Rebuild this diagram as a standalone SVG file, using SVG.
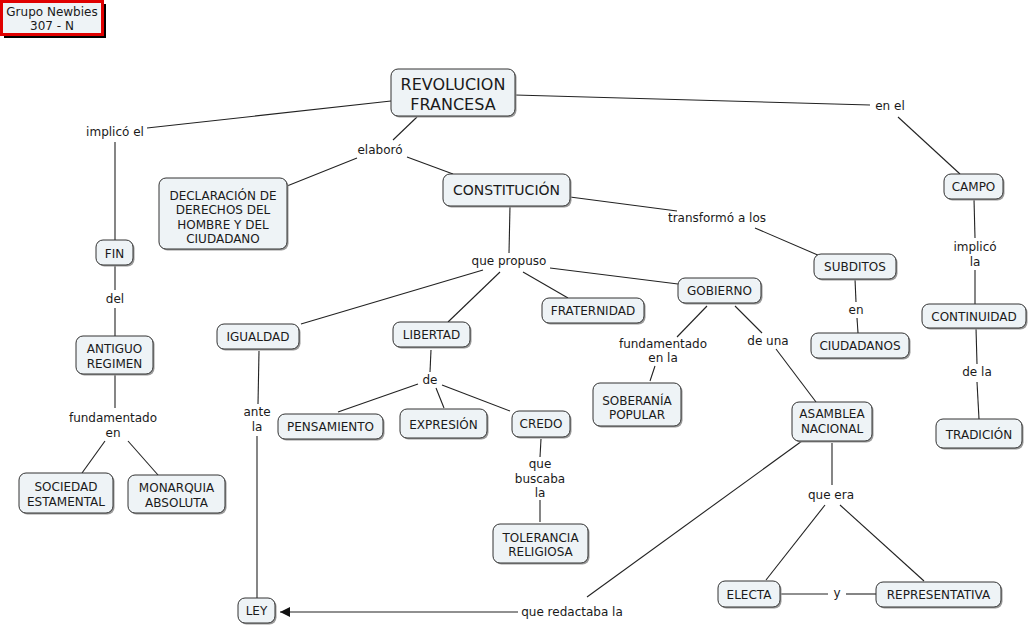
<svg xmlns="http://www.w3.org/2000/svg" width="1029" height="626" viewBox="0 0 1029 626">
<style>
.n rect.b{fill:#eef3f6;stroke:#333;stroke-width:1}
.n rect.s{fill:#9a9a9a}
text{font-family:"DejaVu Sans","Verdana",sans-serif;font-size:12px;fill:#1a1a1a;text-anchor:middle}
.big{font-size:16px}
.mid{font-size:14px}
#connectors line{stroke:#222;stroke-width:1.1}
</style>
<defs>
<marker id="arr" viewBox="0 0 10 10" refX="10" refY="5" markerWidth="10" markerHeight="10" markerUnits="userSpaceOnUse" orient="auto">
<path d="M0,0 L10,5 L0,10 z" fill="#111"/>
</marker>
</defs>
<rect width="1029" height="626" fill="#fff"/>

<g id="title">
<rect x="4" y="4" width="102" height="34" fill="#000"/>
<rect x="1.5" y="1.5" width="101" height="33" fill="#eef3f6" stroke="#e00000" stroke-width="3"/>
<text x="52" y="15.5">Grupo Newbies</text>
<text x="52" y="29.5">307 - N</text>
</g>

<g id="connectors">
<line x1="391" y1="101" x2="147" y2="128"/>
<line x1="115" y1="142" x2="115" y2="240"/>
<line x1="115" y1="265" x2="115" y2="290"/>
<line x1="115" y1="308" x2="115" y2="336"/>
<line x1="115" y1="374" x2="115" y2="408"/>
<line x1="105" y1="441" x2="82" y2="473"/>
<line x1="128" y1="441" x2="158" y2="475"/>
<line x1="417" y1="117" x2="393" y2="140"/>
<line x1="357" y1="158" x2="287" y2="186"/>
<line x1="407" y1="157" x2="453" y2="174"/>
<line x1="515" y1="95" x2="870" y2="105"/>
<line x1="898" y1="117" x2="960" y2="174"/>
<line x1="974" y1="199" x2="975" y2="238"/>
<line x1="975" y1="270" x2="975" y2="304"/>
<line x1="976" y1="328" x2="977" y2="364"/>
<line x1="977" y1="382" x2="979" y2="419"/>
<line x1="570" y1="197" x2="677" y2="211"/>
<line x1="755" y1="228" x2="820" y2="256"/>
<line x1="855" y1="279" x2="856" y2="302"/>
<line x1="857" y1="318" x2="858" y2="333"/>
<line x1="510" y1="206" x2="509" y2="253"/>
<line x1="483" y1="270" x2="301" y2="324"/>
<line x1="500" y1="272" x2="448" y2="322"/>
<line x1="523" y1="272" x2="568" y2="298"/>
<line x1="550" y1="268" x2="678" y2="284"/>
<line x1="431" y1="350" x2="430" y2="372"/>
<line x1="418" y1="384" x2="338" y2="412"/>
<line x1="436" y1="388" x2="444" y2="408"/>
<line x1="442" y1="385" x2="510" y2="411"/>
<line x1="541" y1="439" x2="540" y2="457"/>
<line x1="540" y1="500" x2="540" y2="522"/>
<line x1="707" y1="306" x2="677" y2="337"/>
<line x1="655" y1="366" x2="650" y2="381"/>
<line x1="735" y1="306" x2="762" y2="333"/>
<line x1="776" y1="349" x2="816" y2="402"/>
<line x1="832" y1="443" x2="832" y2="485"/>
<line x1="825" y1="505" x2="766" y2="580"/>
<line x1="840" y1="505" x2="924" y2="581"/>
<line x1="780" y1="594" x2="828" y2="594"/>
<line x1="846" y1="594" x2="876" y2="594"/>
<line x1="259" y1="351" x2="258" y2="404"/>
<line x1="257" y1="436" x2="257" y2="598"/>
<line x1="802" y1="441" x2="587" y2="597"/>
<line x1="518" y1="612" x2="280" y2="612" marker-end="url(#arr)"/>
</g>

<g id="labels">
<text x="115" y="136">implicó el</text>
<text x="380" y="154">elaboró</text>
<text x="890" y="110">en el</text>
<text x="717" y="222">transformó a los</text>
<text x="509" y="265">que propuso</text>
<text x="115" y="303">del</text>
<text x="113" y="422">fundamentado</text>
<text x="113" y="437">en</text>
<text x="430" y="384">de</text>
<text x="257" y="416">ante</text>
<text x="257" y="431">la</text>
<text x="663" y="348">fundamentado</text>
<text x="663" y="362">en la</text>
<text x="768" y="345">de una</text>
<text x="856" y="314">en</text>
<text x="975" y="251">implicó</text>
<text x="975" y="266">la</text>
<text x="977" y="376">de la</text>
<text x="540" y="468">que</text>
<text x="540" y="483">buscaba</text>
<text x="540" y="497">la</text>
<text x="831" y="499">que era</text>
<text x="837" y="597">y</text>
<text x="572" y="616">que redactaba la</text>
</g>

<g id="n-revolucion" class="n"><rect class="s" x="392.5" y="70.5" width="124" height="47" rx="7"/><rect class="b" x="391" y="69" width="124" height="47" rx="7"/><text class="big" x="453" y="90">REVOLUCION</text><text class="big" x="453" y="110">FRANCESA</text></g>
<g id="n-constitucion" class="n"><rect class="s" x="444.5" y="175.5" width="127" height="32" rx="7"/><rect class="b" x="443" y="174" width="127" height="32" rx="7"/><text class="mid" x="506.5" y="195">CONSTITUCIÓN</text></g>
<g id="n-declaracion" class="n"><rect class="s" x="160.5" y="179.5" width="128" height="71" rx="7"/><rect class="b" x="159" y="178" width="128" height="71" rx="7"/><text x="223" y="199.5">DECLARACIÓN DE</text><text x="223" y="214">DERECHOS DEL</text><text x="223" y="228.5">HOMBRE Y DEL</text><text x="223" y="243">CIUDADANO</text></g>
<g id="n-fin" class="n"><rect class="s" x="97.5" y="241.5" width="37" height="25" rx="7"/><rect class="b" x="96" y="240" width="37" height="25" rx="7"/><text x="114.5" y="257.5">FIN</text></g>
<g id="n-antiguo" class="n"><rect class="s" x="77.5" y="337.5" width="77" height="38" rx="7"/><rect class="b" x="76" y="336" width="77" height="38" rx="7"/><text x="114.5" y="352.5">ANTIGUO</text><text x="114.5" y="367.5">REGIMEN</text></g>
<g id="n-sociedad" class="n"><rect class="s" x="20.5" y="474.5" width="94" height="40" rx="7"/><rect class="b" x="19" y="473" width="94" height="40" rx="7"/><text x="66" y="490.5">SOCIEDAD</text><text x="66" y="505.5">ESTAMENTAL</text></g>
<g id="n-monarquia" class="n"><rect class="s" x="129.5" y="476.5" width="97" height="38" rx="7"/><rect class="b" x="128" y="475" width="97" height="38" rx="7"/><text x="176.5" y="491.5">MONARQUIA</text><text x="176.5" y="506.5">ABSOLUTA</text></g>
<g id="n-igualdad" class="n"><rect class="s" x="218.5" y="325.5" width="82" height="25" rx="7"/><rect class="b" x="217" y="324" width="82" height="25" rx="7"/><text x="258" y="341">IGUALDAD</text></g>
<g id="n-libertad" class="n"><rect class="s" x="394.5" y="323.5" width="77" height="25" rx="7"/><rect class="b" x="393" y="322" width="77" height="25" rx="7"/><text x="431.5" y="339">LIBERTAD</text></g>
<g id="n-pensamiento" class="n"><rect class="s" x="279.5" y="415.5" width="105" height="25" rx="7"/><rect class="b" x="278" y="414" width="105" height="25" rx="7"/><text x="330.5" y="431">PENSAMIENTO</text></g>
<g id="n-expresion" class="n"><rect class="s" x="401.5" y="410.5" width="87" height="29" rx="7"/><rect class="b" x="400" y="409" width="87" height="29" rx="7"/><text x="443.5" y="428.5">EXPRESIÓN</text></g>
<g id="n-credo" class="n"><rect class="s" x="513.5" y="412.5" width="58" height="26" rx="7"/><rect class="b" x="512" y="411" width="58" height="26" rx="7"/><text x="541" y="428">CREDO</text></g>
<g id="n-tolerancia" class="n"><rect class="s" x="494.5" y="525.5" width="95" height="39" rx="7"/><rect class="b" x="493" y="524" width="95" height="39" rx="7"/><text x="540.5" y="541.5">TOLERANCIA</text><text x="540.5" y="555.5">RELIGIOSA</text></g>
<g id="n-fraternidad" class="n"><rect class="s" x="543.5" y="299.5" width="102" height="25" rx="7"/><rect class="b" x="542" y="298" width="102" height="25" rx="7"/><text x="593" y="315">FRATERNIDAD</text></g>
<g id="n-gobierno" class="n"><rect class="s" x="679.5" y="279.5" width="83" height="25" rx="7"/><rect class="b" x="678" y="278" width="83" height="25" rx="7"/><text x="719.5" y="295">GOBIERNO</text></g>
<g id="n-soberania" class="n"><rect class="s" x="594.5" y="384.5" width="88" height="43" rx="7"/><rect class="b" x="593" y="383" width="88" height="43" rx="7"/><text x="637" y="404.5">SOBERANÍA</text><text x="637" y="418.5">POPULAR</text></g>
<g id="n-asamblea" class="n"><rect class="s" x="793.5" y="403.5" width="80" height="39" rx="7"/><rect class="b" x="792" y="402" width="80" height="39" rx="7"/><text x="832" y="417.5">ASAMBLEA</text><text x="832" y="432.5">NACIONAL</text></g>
<g id="n-electa" class="n"><rect class="s" x="719.5" y="582.5" width="62" height="26" rx="7"/><rect class="b" x="718" y="581" width="62" height="26" rx="7"/><text x="749" y="598.5">ELECTA</text></g>
<g id="n-representativa" class="n"><rect class="s" x="877.5" y="583.5" width="125" height="25" rx="7"/><rect class="b" x="876" y="582" width="125" height="25" rx="7"/><text x="938.5" y="599">REPRESENTATIVA</text></g>
<g id="n-ley" class="n"><rect class="s" x="239.5" y="599.5" width="37" height="25" rx="7"/><rect class="b" x="238" y="598" width="37" height="25" rx="7"/><text x="256.5" y="615">LEY</text></g>
<g id="n-subditos" class="n"><rect class="s" x="815.5" y="255.5" width="82" height="25" rx="7"/><rect class="b" x="814" y="254" width="82" height="25" rx="7"/><text x="855" y="271">SUBDITOS</text></g>
<g id="n-ciudadanos" class="n"><rect class="s" x="812.5" y="334.5" width="98" height="25" rx="7"/><rect class="b" x="811" y="333" width="98" height="25" rx="7"/><text x="860" y="350">CIUDADANOS</text></g>
<g id="n-campo" class="n"><rect class="s" x="945.5" y="175.5" width="59" height="25" rx="7"/><rect class="b" x="944" y="174" width="59" height="25" rx="7"/><text x="973.5" y="191">CAMPO</text></g>
<g id="n-continuidad" class="n"><rect class="s" x="923.5" y="305.5" width="104" height="24" rx="7"/><rect class="b" x="922" y="304" width="104" height="24" rx="7"/><text x="974" y="320.5">CONTINUIDAD</text></g>
<g id="n-tradicion" class="n"><rect class="s" x="937.5" y="420.5" width="86" height="29" rx="7"/><rect class="b" x="936" y="419" width="86" height="29" rx="7"/><text x="979" y="438.5">TRADICIÓN</text></g>
</svg>
